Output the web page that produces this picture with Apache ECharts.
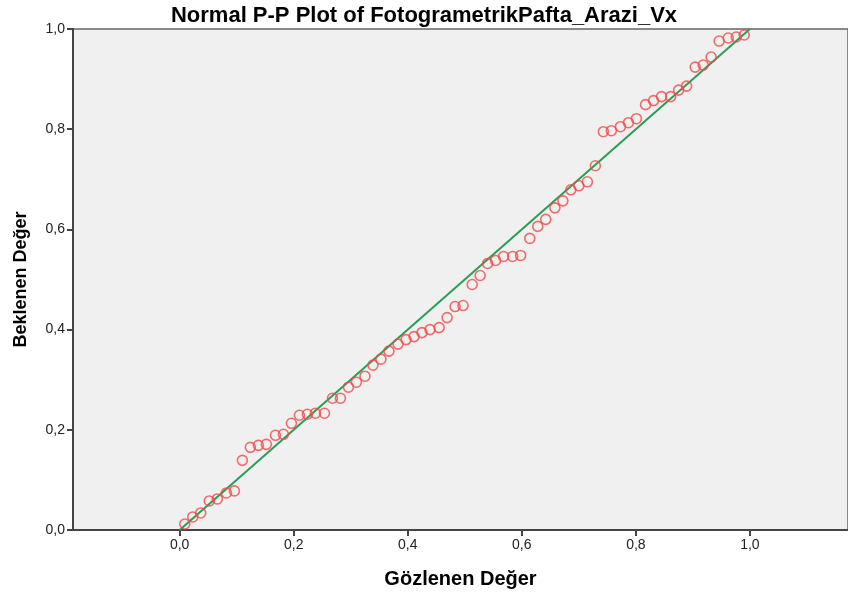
<!DOCTYPE html>
<html>
<head>
<meta charset="utf-8">
<script src="https://cdn.jsdelivr.net/npm/echarts@6/dist/echarts.min.js"></script>
<style>
  html, body { margin: 0; padding: 0; background: #fff; }
  #chart { width: 848px; height: 594px; }
</style>
</head>
<body>
<div id="chart"></div>
<script>
// observed cumulative probability (x) and expected cumulative probability (y)
const observed = [
  0.009, 0.023, 0.037, 0.052, 0.066, 0.082, 0.096, 0.110, 0.124, 0.138,
  0.152, 0.168, 0.182, 0.196, 0.210, 0.224, 0.238, 0.254, 0.268, 0.282,
  0.296, 0.310, 0.325, 0.339, 0.353, 0.367, 0.383, 0.397, 0.411, 0.425,
  0.439, 0.455, 0.469, 0.483, 0.497, 0.513, 0.527, 0.540, 0.554, 0.568,
  0.584, 0.598, 0.614, 0.628, 0.642, 0.658, 0.672, 0.686, 0.700, 0.715,
  0.729, 0.743, 0.757, 0.773, 0.787, 0.801, 0.817, 0.831, 0.845, 0.861,
  0.875, 0.889, 0.904, 0.918, 0.932, 0.946, 0.962, 0.976, 0.990
];
const expected = [
  0.012, 0.026, 0.034, 0.058, 0.062, 0.074, 0.078, 0.139, 0.165, 0.169,
  0.171, 0.189, 0.191, 0.213, 0.229, 0.231, 0.233, 0.233, 0.263, 0.263,
  0.285, 0.295, 0.307, 0.329, 0.341, 0.357, 0.371, 0.380, 0.386, 0.394,
  0.400, 0.404, 0.424, 0.446, 0.448, 0.490, 0.508, 0.532, 0.538, 0.546,
  0.546, 0.548, 0.582, 0.606, 0.620, 0.643, 0.657, 0.679, 0.687, 0.695,
  0.727, 0.795, 0.797, 0.805, 0.813, 0.821, 0.849, 0.857, 0.865, 0.865,
  0.878, 0.886, 0.924, 0.928, 0.944, 0.976, 0.982, 0.984, 0.988
];
const refLine = [[0, 0], [1, 1]];
const tickValues = [0, 0.2, 0.4, 0.6, 0.8, 1.0];

const fmt = v => v.toFixed(1).replace('.', ',');
const font = '"Liberation Sans", Arial, sans-serif';

let inst = echarts.init(document.getElementById('chart'));
let option = {
  animation: false,
  title: {
    text: 'Normal P-P Plot of FotogrametrikPafta_Arazi_Vx',
    left: 'center',
    top: 0,
    textStyle: { fontFamily: font, fontSize: 22, fontWeight: 'bold', color: '#000' }
  },
  grid: {
    left: 73, right: -2, top: 29, bottom: 63,
    show: true, backgroundColor: '#f0f0f0',
    borderColor: '#666', borderWidth: 1.5
  },
  xAxis: {
    type: 'value',
    min: -0.187, max: 1.172,
    name: 'Gözlenen Değer',
    nameLocation: 'middle',
    nameGap: 39,
    nameTextStyle: { fontFamily: font, fontSize: 20, fontWeight: 'bold', color: '#000' },
    splitLine: { show: false },
    axisLine: { onZero: false, lineStyle: { color: '#444', width: 2 } },
    axisTick: { show: true, length: 6, lineStyle: { color: '#444', width: 2 }, customValues: tickValues },
    axisLabel: {
      customValues: tickValues, formatter: fmt, margin: 8,
      fontFamily: font, fontSize: 14, color: '#222'
    }
  },
  yAxis: {
    type: 'value',
    min: 0, max: 1, interval: 0.2,
    name: 'Beklenen Değer',
    nameLocation: 'middle',
    nameGap: 43,
    nameTextStyle: { fontFamily: font, fontSize: 18, fontWeight: 'bold', color: '#000' },
    splitLine: { show: false },
    axisLine: { show: true, onZero: false, lineStyle: { color: '#444', width: 2 } },
    axisTick: { show: true, length: 6, lineStyle: { color: '#444', width: 2 } },
    axisLabel: { formatter: fmt, margin: 8, fontFamily: font, fontSize: 14, color: '#222' }
  },
  series: [
    {
      type: 'line',
      data: refLine,
      symbol: 'none',
      lineStyle: { color: '#2a9d55', width: 2 },
      z: 2
    },
    {
      type: 'scatter',
      data: observed.map((x, i) => [x, expected[i]]),
      symbol: 'circle',
      symbolSize: 10,
      itemStyle: { color: 'rgba(0,0,0,0)', borderColor: '#f04a4a', borderWidth: 1.6 },
      z: 3
    }
  ]
};
inst.setOption(option);
</script>
</body>
</html>
